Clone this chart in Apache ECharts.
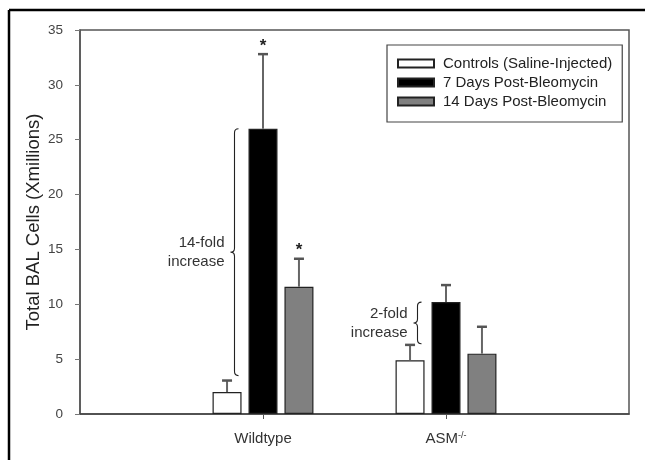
<!DOCTYPE html>
<html>
<head>
<meta charset="utf-8">
<script src="https://cdn.jsdelivr.net/npm/echarts@6/dist/echarts.min.js"></script>
<style>html,body{margin:0;padding:0;background:#fff;}#c{width:645px;height:460px;}</style>
</head>
<body>
<div id="c"></div>
<script>
// ---- data ----
const categories = ['', 'Wildtype', 'ASM', ''];
const seriesNames = ['Controls (Saline-Injected)', '7 Days Post-Bleomycin', '14 Days Post-Bleomycin'];
const controls = [null, 2.0, 4.9, null];
const day7 = [null, 26.0, 10.2, null];
const day14 = [null, 11.6, 5.5, null];
const controlsErr = [null, 1.05, 1.4, null];
const day7Err = [null, 6.8, 1.55, null];
const day14Err = [null, 2.55, 2.45, null];
const day7Star = [false, true, false, false];
const day14Star = [false, true, false, false];
const braces = [
  [1, 3.5, 26.0, '14-fold\nincrease'],
  [2, 6.4, 10.2, '2-fold\nincrease']
];
const yTicks = [0, 5, 10, 15, 20, 25, 30, 35];

// ---- chart ----
const chart = echarts.init(document.getElementById('c'));
const BAR_W = 29, GAP = 0.24;
const STEP = BAR_W * (1 + GAP);
const FONT = 'Liberation Sans, Arial, sans-serif';

const values = [controls, day7, day14];
const errs = [controlsErr, day7Err, day14Err];
const stars = [controls.map(() => false), day7Star, day14Star];
const errData = [];
values.forEach((arr, s) => arr.forEach((v, i) => {
  if (v != null) errData.push([i, v, errs[s][i], s, stars[s][i] ? 1 : 0]);
}));

const colors = ['#ffffff', '#000000', '#808080'];

chart.setOption({
  animation: false,
  backgroundColor: '#fff',
  grid: { left: 80, right: 16, top: 30, bottom: 46, show: true, borderColor: '#555', borderWidth: 1.5, backgroundColor: 'transparent' },
  legend: {
    orient: 'vertical', left: 387, top: 45,
    selectedMode: false,
    borderColor: '#444', borderWidth: 1.2,
    padding: [11, 10, 13, 10],
    itemWidth: 36, itemHeight: 8, itemGap: 4,
    icon: 'rect',
    textStyle: { fontFamily: FONT, fontSize: 15, lineHeight: 15, color: '#222', padding: [0, 0, 0, 4] },
    data: seriesNames
  },
  xAxis: {
    type: 'category', data: categories, boundaryGap: false,
    axisLine: { lineStyle: { color: '#444', width: 1.5 } },
    axisTick: { interval: (i) => i === 1 || i === 2, length: 5, lineStyle: { color: '#555' } },
    axisLabel: {
      interval: (i) => i === 1 || i === 2, margin: 17,
      fontFamily: FONT, fontSize: 15, color: '#333',
      formatter: (v) => v === 'ASM' ? '{a|ASM}{s|-/-}' : v,
      rich: { a: { fontFamily: FONT, fontSize: 15, color: '#333' }, s: { fontFamily: FONT, fontSize: 9, color: '#333', verticalAlign: 'top', padding: [0, 0, 7, 0] } }
    },
    splitLine: { show: false }
  },
  yAxis: {
    type: 'value', min: 0, max: 35, interval: 5,
    name: 'Total BAL Cells (Xmillions)', nameLocation: 'middle', nameGap: 37,
    nameMoveOverlap: false,
    nameTextStyle: { fontFamily: FONT, fontSize: 18.5, color: '#222' },
    axisLine: { show: true, lineStyle: { color: '#555', width: 1.5 } },
    axisTick: { show: true, length: 5, lineStyle: { color: '#777' } },
    axisLabel: { margin: 17, fontFamily: FONT, fontSize: 13.5, color: '#444',
      formatter: (v) => yTicks.indexOf(v) >= 0 ? String(v) : '' },
    splitLine: { show: false }
  },
  series: values.map((arr, s) => ({
    name: seriesNames[s], type: 'bar', data: arr,
    barWidth: BAR_W, barGap: (GAP * 100) + '%',
    itemStyle: { color: colors[s], borderColor: '#222', borderWidth: 1.2 },
    emphasis: { disabled: true }
  })).concat([
    {
      type: 'custom', name: 'err', data: errData, z: 5,
      renderItem: (params, api) => {
        const i = api.value(0), v = api.value(1), e = api.value(2), s = api.value(3), st = api.value(4);
        const base = api.coord([i, v]);
        const top = api.coord([i, v + e]);
        const x = base[0] + (s - 1) * STEP;
        const children = [
          { type: 'line', shape: { x1: x, y1: base[1], x2: x, y2: top[1] }, style: { stroke: '#666', lineWidth: 2 } },
          { type: 'line', shape: { x1: x - 5, y1: top[1], x2: x + 5, y2: top[1] }, style: { stroke: '#555', lineWidth: 2.5 } }
        ];
        if (st) children.push({ type: 'text', style: { text: '*', x: x, y: top[1] - 8, align: 'center', verticalAlign: 'middle', fontFamily: FONT, fontSize: 17, fontWeight: 'bold', fill: '#222' } });
        return { type: 'group', children };
      }
    },
    {
      type: 'custom', name: 'brace', data: braces, z: 5,
      renderItem: (params, api) => {
        const i = api.value(0), lo = api.value(1), hi = api.value(2);
        const label = braces[params.dataIndex][3];
        const c = api.coord([i, lo]);
        const y2 = c[1];
        const y1 = api.coord([i, hi])[1];
        const bx = c[0] - BAR_W / 2 - 14;
        const ym = (y1 + y2) / 2;
        const w = 4;
        const path = `M${bx + w},${y1} Q${bx},${y1} ${bx},${y1 + w} L${bx},${ym - w} Q${bx},${ym} ${bx - w},${ym} Q${bx},${ym} ${bx},${ym + w} L${bx},${y2 - w} Q${bx},${y2} ${bx + w},${y2}`;
        return { type: 'group', children: [
          { type: 'path', shape: { pathData: path }, style: { stroke: '#222', fill: null, lineWidth: 1.1 } },
          { type: 'text', style: { text: label, x: bx - 10, y: ym, align: 'right', verticalAlign: 'middle', lineHeight: 19, fontFamily: FONT, fontSize: 15, fill: '#333' } }
        ] };
      }
    }
  ]),
  graphic: [
    { type: 'line', shape: { x1: 9, y1: 10, x2: 645, y2: 10 }, style: { stroke: '#000', lineWidth: 2.5 } },
    { type: 'line', shape: { x1: 9, y1: 10, x2: 9, y2: 460 }, style: { stroke: '#000', lineWidth: 2.5 } }
  ]
});
</script>
</body>
</html>
